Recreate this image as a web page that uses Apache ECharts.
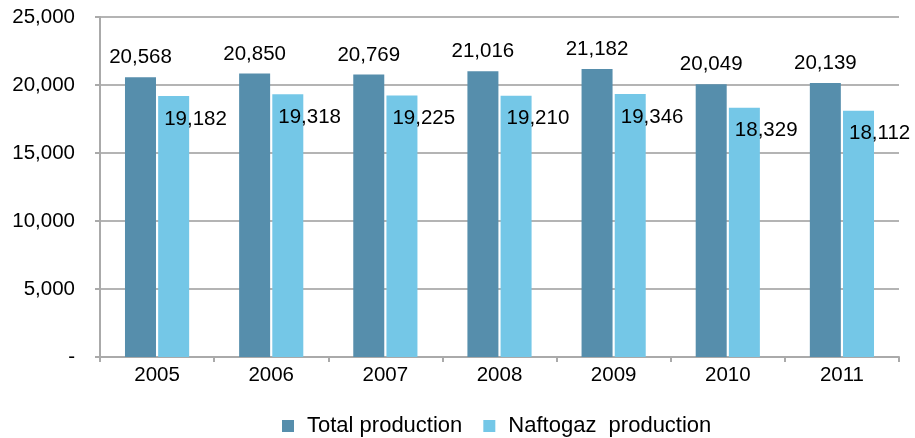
<!DOCTYPE html>
<html><head><meta charset="utf-8">
<script src="https://cdn.jsdelivr.net/npm/echarts@6/dist/echarts.min.js"></script>
<style>html,body{margin:0;padding:0;background:#fff}#c{width:915px;height:438px}</style>
</head><body><div id="c"></div>
<script>
var categories = ['2005','2006','2007','2008','2009','2010','2011'];
var totalProduction = [20568, 20850, 20769, 21016, 21182, 20049, 20139];
var naftogazProduction = [19182, 19318, 19225, 19210, 19346, 18329, 18112];
var yTicks = [0, 5000, 10000, 15000, 20000, 25000];

function fmt(v){ return v === 0 ? '-' : v.toLocaleString('en-US'); }
var font = '"Liberation Sans", Arial, sans-serif';
var fs = 20.5;
var chart = echarts.init(document.getElementById('c'));
chart.setOption({
  animation: false,
  textStyle: { fontFamily: font },
  grid: { left: 100, right: 16, top: 17, bottom: 81 },
  legend: {
    top: 410, left: 277, itemWidth: 12, itemHeight: 12, itemGap: 21,
    icon: 'rect',
    textStyle: { fontSize: 22, color: '#000', fontFamily: font, padding: [0,0,0,8] },
    data: ['Total production', 'Naftogaz production'],
    formatter: function(n){ return n === 'Naftogaz production' ? 'Naftogaz  production' : n; }
  },
  xAxis: {
    type: 'category', data: categories,
    axisLine: { lineStyle: { color: '#aaaaaa', width: 2 } },
    axisTick: { show: true, length: 5, lineStyle: { color: '#aaaaaa', width: 2 } },
    axisLabel: { fontSize: fs, color: '#000', margin: 8 }
  },
  yAxis: {
    type: 'value', min: yTicks[0], max: yTicks[yTicks.length-1], interval: 5000,
    axisLine: { show: true, lineStyle: { color: '#aaaaaa', width: 2 } },
    axisTick: { show: true, length: 5, lineStyle: { color: '#aaaaaa', width: 2 } },
    splitLine: { lineStyle: { color: '#b4b4b4', width: 2 } },
    axisLabel: { fontSize: fs, color: '#000', margin: 25, formatter: fmt }
  },
  series: [
    {
      name: 'Total production', type: 'bar', data: totalProduction,
      barWidth: 31, barGap: '7%',
      itemStyle: { color: '#568EAC' },
      label: { show: true, position: 'top', distance: 9, fontSize: fs, color: '#000', formatter: function(p){ return fmt(p.value); } }
    },
    {
      name: 'Naftogaz production', type: 'bar', data: naftogazProduction,
      barWidth: 31,
      itemStyle: { color: '#74C7E7' },
      label: { show: true, position: [6, 23], verticalAlign: 'middle', align: 'left', fontSize: fs, color: '#000', formatter: function(p){ return fmt(p.value); } }
    }
  ]
});
</script></body></html>
